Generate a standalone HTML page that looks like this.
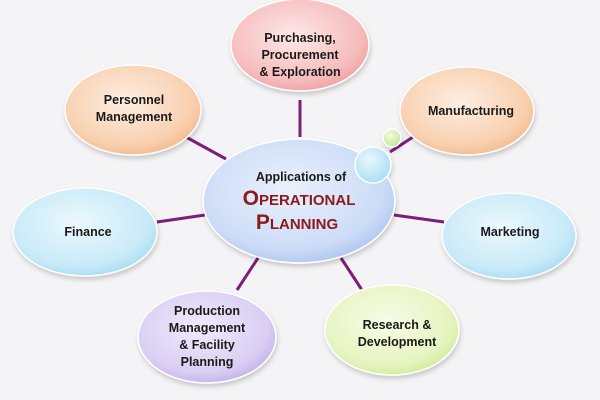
<!DOCTYPE html>
<html><head><meta charset="utf-8"><style>
html,body{margin:0;padding:0;background:#f4f4f6;}
svg{display:block}
text{font-family:"Liberation Sans",sans-serif;font-weight:bold;fill:#1a1a1a;text-anchor:middle;}
</style></head><body>
<svg width="600" height="400" viewBox="0 0 600 400">
<defs>
<radialGradient id="pink" cx="45%" cy="40%" r="65%"><stop offset="0" stop-color="#fde8e8"/><stop offset="0.75" stop-color="#f6bcbc"/><stop offset="1" stop-color="#ee9c9c"/></radialGradient>
<radialGradient id="orange" cx="45%" cy="40%" r="65%"><stop offset="0" stop-color="#fdeee2"/><stop offset="0.75" stop-color="#f8d0af"/><stop offset="1" stop-color="#f1b687"/></radialGradient>
<radialGradient id="blue" cx="45%" cy="40%" r="65%"><stop offset="0" stop-color="#ecf8fd"/><stop offset="0.75" stop-color="#c8eaf8"/><stop offset="1" stop-color="#a2d9f1"/></radialGradient>
<radialGradient id="center" cx="45%" cy="40%" r="65%"><stop offset="0" stop-color="#eaf0fc"/><stop offset="0.75" stop-color="#ccdcf7"/><stop offset="1" stop-color="#a9c2ee"/></radialGradient>
<radialGradient id="purple" cx="45%" cy="40%" r="65%"><stop offset="0" stop-color="#f0ebfb"/><stop offset="0.75" stop-color="#d9cef3"/><stop offset="1" stop-color="#bdaee7"/></radialGradient>
<radialGradient id="green" cx="45%" cy="40%" r="65%"><stop offset="0" stop-color="#f7fce8"/><stop offset="0.75" stop-color="#e6f4c0"/><stop offset="1" stop-color="#d0e994"/></radialGradient>
<radialGradient id="sm" cx="40%" cy="35%" r="70%"><stop offset="0" stop-color="#e8f8fd"/><stop offset="1" stop-color="#a8dcf1"/></radialGradient>
<radialGradient id="smg" cx="40%" cy="35%" r="70%"><stop offset="0" stop-color="#f2fbe0"/><stop offset="1" stop-color="#c4e596"/></radialGradient>
<filter id="sh" x="-20%" y="-20%" width="140%" height="150%"><feDropShadow dx="1" dy="3" stdDeviation="2.5" flood-color="#000" flood-opacity="0.18"/></filter>
</defs>
<g stroke="#7a1f7a" stroke-width="3">
<line x1="300" y1="100" x2="300" y2="137"/>
<line x1="186" y1="137" x2="226" y2="159"/>
<line x1="413" y1="137" x2="390" y2="152"/>
<line x1="157" y1="222" x2="205" y2="215"/>
<line x1="394" y1="215" x2="444" y2="222"/>
<line x1="258" y1="258" x2="237" y2="290"/>
<line x1="341" y1="258" x2="362" y2="290"/>
</g>
<g stroke="#ffffff" stroke-width="1.5" filter="url(#sh)">
<ellipse cx="300" cy="45" rx="69" ry="46" fill="url(#pink)"/>
<ellipse cx="133" cy="110" rx="68" ry="45" fill="url(#orange)"/>
<ellipse cx="467" cy="111" rx="67" ry="44" fill="url(#orange)"/>
<ellipse cx="85" cy="232" rx="72" ry="44" fill="url(#blue)"/>
<ellipse cx="509" cy="236" rx="67" ry="43" fill="url(#blue)"/>
<ellipse cx="207" cy="337" rx="69" ry="46" fill="url(#purple)"/>
<ellipse cx="392" cy="330" rx="67" ry="45" fill="url(#green)"/>
<ellipse cx="299" cy="201" rx="96" ry="62" fill="url(#center)"/>
<circle cx="373" cy="165" r="18" fill="url(#sm)"/>
<circle cx="392" cy="138" r="9" fill="url(#smg)"/>
</g>
<g font-size="12.5">
<text x="300" y="42">Purchasing,</text>
<text x="300" y="59">Procurement</text>
<text x="300" y="76">&amp; Exploration</text>
<text x="134" y="104">Personnel</text>
<text x="134" y="121">Management</text>
<text x="471" y="115">Manufacturing</text>
<text x="88" y="236">Finance</text>
<text x="510" y="236">Marketing</text>
<text x="207" y="315">Production</text>
<text x="207" y="332">Management</text>
<text x="207" y="349">&amp; Facility</text>
<text x="207" y="366">Planning</text>
<text x="397" y="329">Research &amp;</text>
<text x="397" y="346">Development</text>
<text x="301" y="181">Applications of</text>
</g>
<g font-size="15">
<text x="299" y="205" style="fill:#8b1a1a"><tspan font-size="21">O</tspan>PERATIONAL</text>
<text x="297" y="229" style="fill:#8b1a1a"><tspan font-size="21">P</tspan>LANNING</text>
</g>
</svg>
</body></html>
